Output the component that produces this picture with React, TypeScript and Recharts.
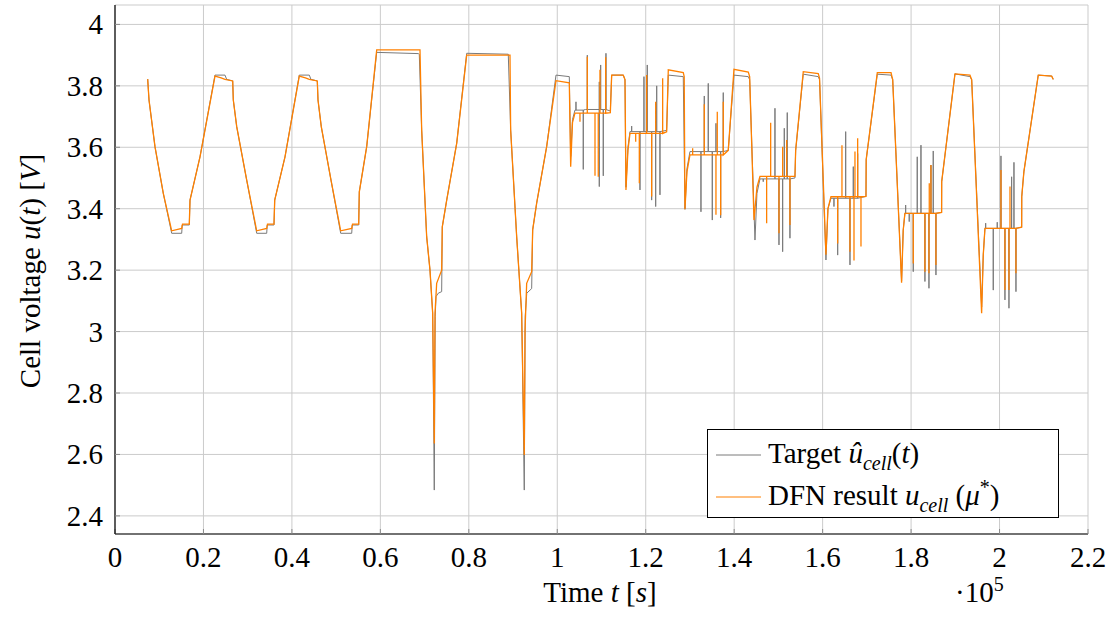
import React from "react";
import { LineChart, Line, XAxis, YAxis, CartesianGrid, Legend } from "recharts";

// time in units of 1e5 s, cell voltage in V.
// a third entry of 1 marks a current-pulse spike: the trace jumps to that value and back.
const targetTrace: number[][] = [
  [0.0739, 3.822], [0.0769, 3.754], [0.0904, 3.602], [0.1092, 3.45], [0.1282, 3.32],
  [0.1508, 3.32], [0.152, 3.347], [0.168, 3.347], [0.1696, 3.428], [0.1922, 3.569],
  [0.2261, 3.835], [0.2487, 3.835], [0.2525, 3.821], [0.2661, 3.816], [0.2675, 3.754],
  [0.2752, 3.667], [0.2978, 3.493], [0.3204, 3.32],
  [0.343, 3.32], [0.3442, 3.347], [0.3595, 3.347], [0.3611, 3.428], [0.3844, 3.569],
  [0.4167, 3.835], [0.4393, 3.835], [0.4431, 3.821], [0.4574, 3.816], [0.459, 3.754],
  [0.4664, 3.667], [0.4884, 3.493], [0.5103, 3.32],
  [0.5352, 3.32], [0.5364, 3.347], [0.551, 3.347], [0.5524, 3.455], [0.5691, 3.602],
  [0.5917, 3.909], [0.6858, 3.905], [0.688, 3.903], [0.6934, 3.656], [0.7047, 3.309],
  [0.7122, 3.2], [0.7183, 3.06], [0.7219, 2.484], [0.724, 3.05], [0.7258, 3.114],
  [0.731, 3.125], [0.7386, 3.13], [0.74, 3.341], [0.75, 3.428], [0.7726, 3.613],
  [0.7952, 3.906], [0.8892, 3.903], [0.8946, 3.656], [0.9082, 3.309], [0.9195, 3.06],
  [0.9254, 2.484], [0.9275, 3.05], [0.931, 3.125], [0.9421, 3.14], [0.9444, 3.331],
  [0.9534, 3.418], [0.976, 3.602], [0.9971, 3.835],
  [1.0272, 3.83], [1.0303, 3.57], [1.0344, 3.69], [1.04, 3.721],
  [1.0423, 3.748, 1], [1.0588, 3.528, 1], [1.064, 3.723], [1.0679, 3.9, 1],
  [1.095, 3.472, 1], [1.095, 3.813, 1], [1.0981, 3.868, 1], [1.104, 3.507, 1],
  [1.1101, 3.906, 1], [1.12, 3.718],
  [1.123, 3.835], [1.1492, 3.835], [1.1531, 3.82], [1.1553, 3.47], [1.1598, 3.6], [1.1644, 3.651],
  [1.1682, 3.669, 1], [1.187, 3.461, 1], [1.196, 3.83, 1], [1.2035, 3.868, 1],
  [1.2134, 3.428, 1], [1.2225, 3.407, 1], [1.2248, 3.8, 1], [1.2322, 3.445, 1],
  [1.2473, 3.655],
  [1.251, 3.835], [1.2849, 3.83], [1.2887, 3.398], [1.2932, 3.53], [1.3, 3.586],
  [1.3249, 3.39, 1], [1.3324, 3.767, 1], [1.3414, 3.808, 1], [1.3505, 3.363, 1],
  [1.3588, 3.678, 1], [1.3694, 3.37, 1], [1.3753, 3.778, 1],
  [1.3866, 3.59], [1.3995, 3.835], [1.4319, 3.83], [1.435, 3.82], [1.447, 3.298],
  [1.4515, 3.45], [1.4583, 3.497],
  [1.4657, 3.488, 1], [1.4922, 3.727, 1], [1.5013, 3.282, 1], [1.5096, 3.26, 1],
  [1.5133, 3.662, 1], [1.52, 3.713, 1], [1.5261, 3.304, 1],
  [1.5374, 3.5], [1.539, 3.59], [1.5562, 3.838], [1.5901, 3.83], [1.593, 3.82],
  [1.6075, 3.233], [1.612, 3.4], [1.6188, 3.434],
  [1.6256, 3.407, 1], [1.634, 3.249, 1], [1.6521, 3.651, 1], [1.6618, 3.217, 1],
  [1.6693, 3.537, 1], [1.6792, 3.58, 1],
  [1.698, 3.44], [1.6985, 3.56], [1.7236, 3.838], [1.7546, 3.835], [1.7584, 3.82],
  [1.7785, 3.165], [1.7822, 3.33], [1.786, 3.385],
  [1.7877, 3.412, 1], [1.7958, 3.358, 1], [1.8049, 3.195, 1], [1.8139, 3.569, 1],
  [1.8223, 3.607, 1], [1.8313, 3.163, 1], [1.8404, 3.141, 1], [1.8449, 3.542, 1],
  [1.8501, 3.588, 1], [1.8562, 3.184, 1],
  [1.869, 3.388], [1.8692, 3.488], [1.8992, 3.839], [1.9331, 3.83], [1.937, 3.82],
  [1.9595, 3.08], [1.9632, 3.25], [1.967, 3.336],
  [1.9686, 3.353, 1], [1.9858, 3.135, 1], [1.9948, 3.356, 1], [2.0032, 3.572, 1],
  [2.0122, 3.103, 1], [2.0213, 3.076, 1], [2.0273, 3.504, 1], [2.0326, 3.551, 1],
  [2.0371, 3.13, 1],
  [2.05, 3.34], [2.0502, 3.439], [2.055, 3.52], [2.0875, 3.835], [2.1178, 3.832], [2.1214, 3.821],
];

const dfnTrace: number[][] = [
  [0.0739, 3.822], [0.0769, 3.754], [0.0904, 3.602], [0.1092, 3.45], [0.1282, 3.328],
  [0.1508, 3.336], [0.1526, 3.35], [0.168, 3.35], [0.1696, 3.428], [0.1922, 3.569],
  [0.2261, 3.832], [0.24, 3.826], [0.2487, 3.821], [0.2661, 3.816], [0.2675, 3.754],
  [0.2752, 3.667], [0.2978, 3.493], [0.3204, 3.328],
  [0.343, 3.336], [0.3448, 3.35], [0.3595, 3.35], [0.3611, 3.428], [0.3844, 3.569],
  [0.4167, 3.832], [0.4306, 3.826], [0.4393, 3.821], [0.4574, 3.816], [0.459, 3.754],
  [0.4664, 3.667], [0.4884, 3.493], [0.5103, 3.328],
  [0.5352, 3.336], [0.537, 3.35], [0.551, 3.35], [0.5524, 3.455], [0.5691, 3.602],
  [0.5917, 3.917], [0.6896, 3.917], [0.6934, 3.656], [0.7047, 3.309], [0.7122, 3.2],
  [0.7183, 3.06], [0.7219, 2.636], [0.7235, 3.06], [0.7273, 3.157], [0.7386, 3.2],
  [0.74, 3.341], [0.75, 3.428], [0.7726, 3.613], [0.7952, 3.9], [0.8931, 3.9],
  [0.8946, 3.656], [0.9082, 3.309], [0.9195, 3.06], [0.9254, 2.598], [0.927, 3.0],
  [0.9308, 3.157], [0.9421, 3.195], [0.9444, 3.331], [0.9534, 3.418], [0.976, 3.602],
  [0.9971, 3.817],
  [1.0272, 3.81], [1.0303, 3.537], [1.0344, 3.68], [1.04, 3.711],
  [1.0513, 3.683, 1], [1.0679, 3.895, 1], [1.0853, 3.507, 1], [1.0927, 3.504, 1],
  [1.0965, 3.852, 1], [1.1094, 3.893, 1], [1.12, 3.713],
  [1.123, 3.835], [1.1492, 3.835], [1.1531, 3.82], [1.1553, 3.461], [1.1598, 3.59], [1.1644, 3.645],
  [1.1773, 3.618, 1], [1.1855, 3.483, 1], [1.2021, 3.835, 1], [1.2134, 3.44, 1],
  [1.2225, 3.748, 1], [1.2383, 3.825, 1],
  [1.2473, 3.65],
  [1.251, 3.852], [1.2849, 3.843], [1.287, 3.83], [1.2887, 3.398], [1.2932, 3.52], [1.3, 3.575],
  [1.3061, 3.597, 1], [1.3324, 3.74, 1], [1.3588, 3.38, 1], [1.3618, 3.716, 1],
  [1.3694, 3.379, 1], [1.3753, 3.748, 1],
  [1.3866, 3.59], [1.3995, 3.854], [1.4319, 3.845], [1.435, 3.83], [1.4448, 3.363],
  [1.4515, 3.47], [1.4583, 3.505],
  [1.4734, 3.353, 1], [1.4825, 3.68, 1], [1.5013, 3.32, 1], [1.5096, 3.602, 1],
  [1.5187, 3.624, 1], [1.5261, 3.347, 1],
  [1.5374, 3.505], [1.539, 3.59], [1.5562, 3.846], [1.5901, 3.84], [1.593, 3.825],
  [1.6075, 3.25], [1.612, 3.4], [1.6188, 3.439],
  [1.634, 3.287, 1], [1.6437, 3.607, 1], [1.6618, 3.26, 1], [1.6709, 3.231, 1],
  [1.6731, 3.586, 1], [1.6792, 3.629, 1], [1.6867, 3.277, 1],
  [1.698, 3.44], [1.6985, 3.56], [1.7236, 3.843], [1.7546, 3.843], [1.7584, 3.82],
  [1.7785, 3.159], [1.7822, 3.33], [1.786, 3.385],
  [1.8049, 3.222, 1], [1.8313, 3.195, 1], [1.8404, 3.19, 1], [1.8411, 3.483, 1],
  [1.8449, 3.542, 1], [1.8562, 3.217, 1],
  [1.869, 3.388], [1.8692, 3.488], [1.8992, 3.839], [1.9331, 3.835], [1.937, 3.82],
  [1.9595, 3.06], [1.9632, 3.25], [1.967, 3.336],
  [2.0032, 3.526, 1], [2.0122, 3.135, 1], [2.0213, 3.135, 1], [2.0236, 3.472, 1],
  [2.0371, 3.19, 1],
  [2.05, 3.34], [2.0502, 3.439], [2.055, 3.52], [2.0875, 3.835], [2.1178, 3.832], [2.1214, 3.821],
];

const xTicks = [0, 0.2, 0.4, 0.6, 0.8, 1, 1.2, 1.4, 1.6, 1.8, 2, 2.2];
const yTicks = [2.4, 2.6, 2.8, 3, 3.2, 3.4, 3.6, 3.8, 4];

const FONT = "'Liberation Serif', 'Times New Roman', serif";
const GREY = "#7a7a7a";
const ORANGE = "#ff8000";
const TICK = "#8c8c8c";
const txt = { fontFamily: FONT, fontSize: 29, fill: "#000" };

function toRows(trace: number[][]) {
  const rows: { t: number; v: number }[] = [];
  let base = trace[0][1];
  for (const [t, v, spike] of trace) {
    if (spike) {
      rows.push({ t, v: base }, { t, v }, { t, v: base });
    } else {
      rows.push({ t, v });
      base = v;
    }
  }
  return rows;
}

const targetRows = toRows(targetTrace);
const dfnRows = toRows(dfnTrace);

const XTick = (props: any) => {
  const { x, y, payload } = props;
  return (
    <text x={x} y={y} dy={21} textAnchor="middle" style={txt}>
      {String(payload.value)}
    </text>
  );
};

const YTick = (props: any) => {
  const { x, y, payload } = props;
  return (
    <text x={x} y={y} dy={10} textAnchor="end" style={txt}>
      {String(payload.value)}
    </text>
  );
};

const YLabel = () => (
  <text
    x={30}
    y={271}
    transform="rotate(-90 30 271)"
    textAnchor="middle"
    dominantBaseline="central"
    style={txt}
  >
    {"Cell voltage "}
    <tspan fontStyle="italic">u</tspan>
    {"("}
    <tspan fontStyle="italic">t</tspan>
    {") ["}
    <tspan fontStyle="italic">V</tspan>
    {"]"}
  </text>
);

const XLabel = () => (
  <g>
    <text x={600} y={602} textAnchor="middle" style={txt}>
      {"Time "}
      <tspan fontStyle="italic">t</tspan>
      {" ["}
      <tspan fontStyle="italic">s</tspan>
      {"]"}
    </text>
    <text x={955} y={602} style={txt}>
      {"·10"}
      <tspan dy={-11} style={{ fontSize: 20 }}>5</tspan>
    </text>
  </g>
);

const sub = { fontSize: 20, fontStyle: "italic" as const, position: "relative" as const, top: 7 };

const LegendBox = () => (
  <div
    style={{
      width: 352,
      height: 89,
      boxSizing: "border-box",
      border: "1px solid #000",
      background: "#fff",
      fontFamily: FONT,
      fontSize: 29,
      color: "#000",
      padding: "4px 0 0 8px",
      lineHeight: "39px",
    }}
  >
    <div style={{ display: "flex", alignItems: "center", whiteSpace: "pre" }}>
      <svg width={45} height={4} style={{ marginRight: 7 }}>
        <line x1={0} y1={2} x2={45} y2={2} stroke={GREY} strokeWidth={1} />
      </svg>
      <span>
        {"Target "}
        <i>û</i>
        <span style={sub}>cell</span>
        {"("}
        <i>t</i>
        {")"}
      </span>
    </div>
    <div style={{ display: "flex", alignItems: "center", whiteSpace: "pre" }}>
      <svg width={45} height={4} style={{ marginRight: 7 }}>
        <line x1={0} y1={2} x2={45} y2={2} stroke={ORANGE} strokeWidth={1.2} />
      </svg>
      <span>
        {"DFN result "}
        <i>u</i>
        <span style={sub}>cell</span>
        {" ("}
        <i>μ</i>
        <sup style={{ fontSize: 20, lineHeight: 0 }}>*</sup>
        {")"}
      </span>
    </div>
  </div>
);

export default function App() {
  return (
    <div
      style={{
        position: "absolute",
        left: 0,
        top: 0,
        width: 1116,
        height: 622,
        background: "#fff",
        fontFamily: FONT,
      }}
    >
      <LineChart
        width={1116}
        height={622}
        margin={{ top: 5, right: 28, bottom: 58, left: 0 }}
      >
        <CartesianGrid stroke="#cbcbcb" strokeWidth={1} />
        <XAxis
          dataKey="t"
          type="number"
          domain={[0, 2.2]}
          ticks={xTicks}
          height={30}
          axisLine={{ stroke: "#000", strokeWidth: 1.2 }}
          tickLine={{ stroke: TICK }}
          tickSize={-5}
          tickMargin={17}
          tick={XTick}
          label={XLabel}
        />
        <XAxis
          xAxisId="top"
          orientation="top"
          dataKey="t"
          type="number"
          domain={[0, 2.2]}
          ticks={xTicks}
          height={0}
          axisLine={{ stroke: "#000", strokeWidth: 1.2 }}
          tickLine={{ stroke: TICK }}
          tickSize={-5}
          tick={false}
        />
        <YAxis
          type="number"
          domain={[2.341, 4.0632]}
          ticks={yTicks}
          width={115}
          axisLine={{ stroke: "#000", strokeWidth: 1.2 }}
          tickLine={{ stroke: TICK }}
          tickSize={-5}
          tickMargin={17}
          tick={YTick}
          label={YLabel}
        />
        <YAxis
          yAxisId="right"
          orientation="right"
          type="number"
          domain={[2.341, 4.0632]}
          ticks={yTicks}
          width={0}
          axisLine={{ stroke: "#000", strokeWidth: 1.2 }}
          tickLine={{ stroke: TICK }}
          tickSize={-5}
          tick={false}
        />
        <Legend
          layout="vertical"
          align="center"
          verticalAlign="middle"
          content={LegendBox}
          wrapperStyle={{ left: 707, top: 429, width: 352, height: 89 }}
        />
        <Line
          data={targetRows}
          dataKey="v"
          name="Target"
          stroke={GREY}
          strokeWidth={1}
          dot={false}
          activeDot={false}
          isAnimationActive={false}
        />
        <Line
          data={dfnRows}
          dataKey="v"
          name="DFN result"
          stroke={ORANGE}
          strokeWidth={1.3}
          dot={false}
          activeDot={false}
          isAnimationActive={false}
        />
      </LineChart>
    </div>
  );
}
